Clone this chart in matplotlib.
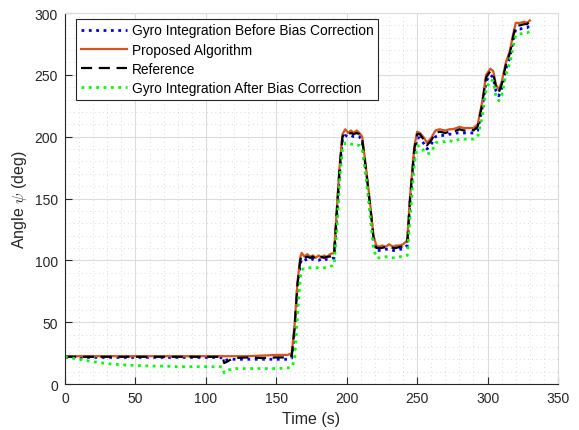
import matplotlib
matplotlib.use("Agg")
import matplotlib.pyplot as plt
from matplotlib.ticker import MultipleLocator

plt.rcParams['font.family'] = ['Liberation Sans', 'DejaVu Sans']
plt.rcParams['mathtext.fontset'] = 'cm'

# sample times (s)
t = [0, 10, 20, 30, 40, 50, 60, 70, 80, 90, 100, 110, 112, 113, 115, 118, 120,
     130, 140, 150, 158, 161, 163, 165, 167, 168, 170, 172, 174, 176, 178, 180,
     182, 184, 186, 188, 191, 193, 195, 197, 199, 201, 203, 205, 207, 209, 211,
     214, 217, 219, 221, 223, 225, 228, 230, 233, 235, 238, 240, 243, 245, 248,
     250, 252, 255, 257, 260, 263, 266, 270, 273, 275, 278, 280, 283, 285, 288,
     290, 293, 296, 299, 302, 304, 306, 308, 310, 313, 316, 318, 320, 323, 326,
     328, 330]

# heading angle (deg)
reference = [22, 22, 22, 22, 22, 22, 22, 22, 22, 22, 22, 22, 21.5, 17, 18, 20, 21,
             21.5, 21, 21.5, 21.5, 23, 45, 80, 100, 104, 102, 103, 102, 103, 101, 102,
             103, 102, 103, 103, 104, 140, 175, 200, 203, 202, 203, 202, 203, 202, 198,
             170, 140, 118, 110, 110, 110, 111, 111, 110, 110, 111, 111, 114, 150, 190,
             202, 202, 197, 193, 197, 203, 204, 203, 204, 204, 205, 206, 205, 205, 206,
             205, 208, 225, 248, 253, 251, 240, 236, 242, 258, 268, 280, 290, 290, 291,
             291, 293]

proposed = [22.5, 22.5, 22.5, 22.5, 22.5, 22.5, 22.5, 22.5, 22.5, 22.5, 22.5, 22.5, 22.5, 22.5, 22.5, 22.5, 22.5,
            22.5, 23, 23.5, 23.5, 25, 48, 82, 102, 106, 103, 105, 103, 104, 102, 104,
            102, 104, 102, 105, 106, 142, 177, 202, 206, 203, 205, 203, 205, 203, 200,
            172, 142, 120, 112, 111, 112, 111, 113, 111, 112, 112, 113, 116, 152, 192,
            204, 203, 199, 195, 199, 205, 206, 205, 206, 206, 207, 208, 207, 207, 207,
            207, 210, 227, 250, 255, 253, 242, 238, 244, 260, 270, 282, 292, 292, 293,
            292, 294]

before_bias = [21.5, 21.5, 21.5, 21.5, 21.5, 21.5, 21.5, 21.5, 21.5, 21.5, 21.5, 21.5, 21, 19, 19.5, 20, 20,
               20, 20, 20, 20, 21, 42, 77, 97, 101, 100, 101, 100, 101, 100, 100,
               101, 100, 101, 101, 102, 137, 172, 198, 201, 200, 201, 200, 200, 200, 196,
               168, 138, 116, 108, 108, 108, 109, 109, 108, 108, 109, 109, 112, 147, 187,
               199, 199, 194, 190, 194, 200, 201, 201, 202, 202, 203, 203, 203, 203, 203,
               203, 205, 222, 245, 250, 248, 237, 233, 239, 255, 265, 277, 287, 287, 288,
               288, 290]

after_bias = [22, 20, 18, 16.5, 15.5, 15, 14.5, 14.5, 14, 14, 14, 14, 13.5, 9, 11, 12, 12.5,
              12.5, 12.5, 12.5, 13, 13.5, 20, 55, 85, 92, 94, 94, 94, 94, 94, 94,
              94, 94, 94, 95, 96, 125, 165, 190, 195, 195, 194, 194, 193, 193, 190,
              165, 132, 110, 102, 102, 102, 103, 103, 102, 102, 103, 103, 104, 135, 178,
              192, 193, 188, 186, 187, 195, 196, 196, 197, 196, 197, 198, 198, 198, 198,
              198, 200, 215, 238, 246, 245, 232, 229, 233, 250, 260, 272, 282, 283, 284,
              284, 285]

fig = plt.figure(figsize=(5.79, 4.31), dpi=100)
ax = fig.add_axes([0.1123, 0.1067, 0.8514, 0.8608])

ax.plot(t, before_bias, ':', color='#0000ff', lw=2.0, label='Gyro Integration Before Bias Correction')
ax.plot(t, proposed, '-', color='#d95319', lw=1.6, label='Proposed Algorithm')
ax.plot(t, reference, '--', color='black', lw=1.6, dashes=(5, 3), label='Reference')
ax.plot(t, after_bias, ':', color='#00ff00', lw=2.0, label='Gyro Integration After Bias Correction')

ax.set_xlim(0, 350)
ax.set_ylim(0, 300)
ax.xaxis.set_major_locator(MultipleLocator(50))
ax.yaxis.set_major_locator(MultipleLocator(50))
ax.xaxis.set_minor_locator(MultipleLocator(10))
ax.yaxis.set_minor_locator(MultipleLocator(10))

ax.grid(True, which='major', color='#dcdcdc', lw=0.8, ls='-')
ax.grid(True, which='minor', color='#cfcfcf', lw=0.6, ls=(0, (1, 4)))
ax.set_axisbelow(True)

for side in ('top', 'right'):
    ax.spines[side].set_color('#dcdcdc')
for side in ('left', 'bottom'):
    ax.spines[side].set_color('#262626')
    ax.spines[side].set_linewidth(0.8)

ax.tick_params(which='major', direction='in', length=5, width=0.8,
               labelsize=10, colors='#262626', pad=5)
ax.tick_params(which='minor', length=0)

ax.set_xlabel('Time (s)', fontsize=11.5, color='#262626')
ax.set_ylabel(r'Angle $\psi$ (deg)', fontsize=11.5, color='#262626')

leg = ax.legend(loc='upper left', bbox_to_anchor=(0.022, 0.985), fontsize=9.9,
                fancybox=False, framealpha=1, edgecolor='#262626',
                handlelength=3.4, borderaxespad=0.0, labelspacing=0.38,
                handletextpad=0.3, borderpad=0.35)
leg.get_frame().set_linewidth(0.8)

fig.savefig('out.png', dpi=100)
